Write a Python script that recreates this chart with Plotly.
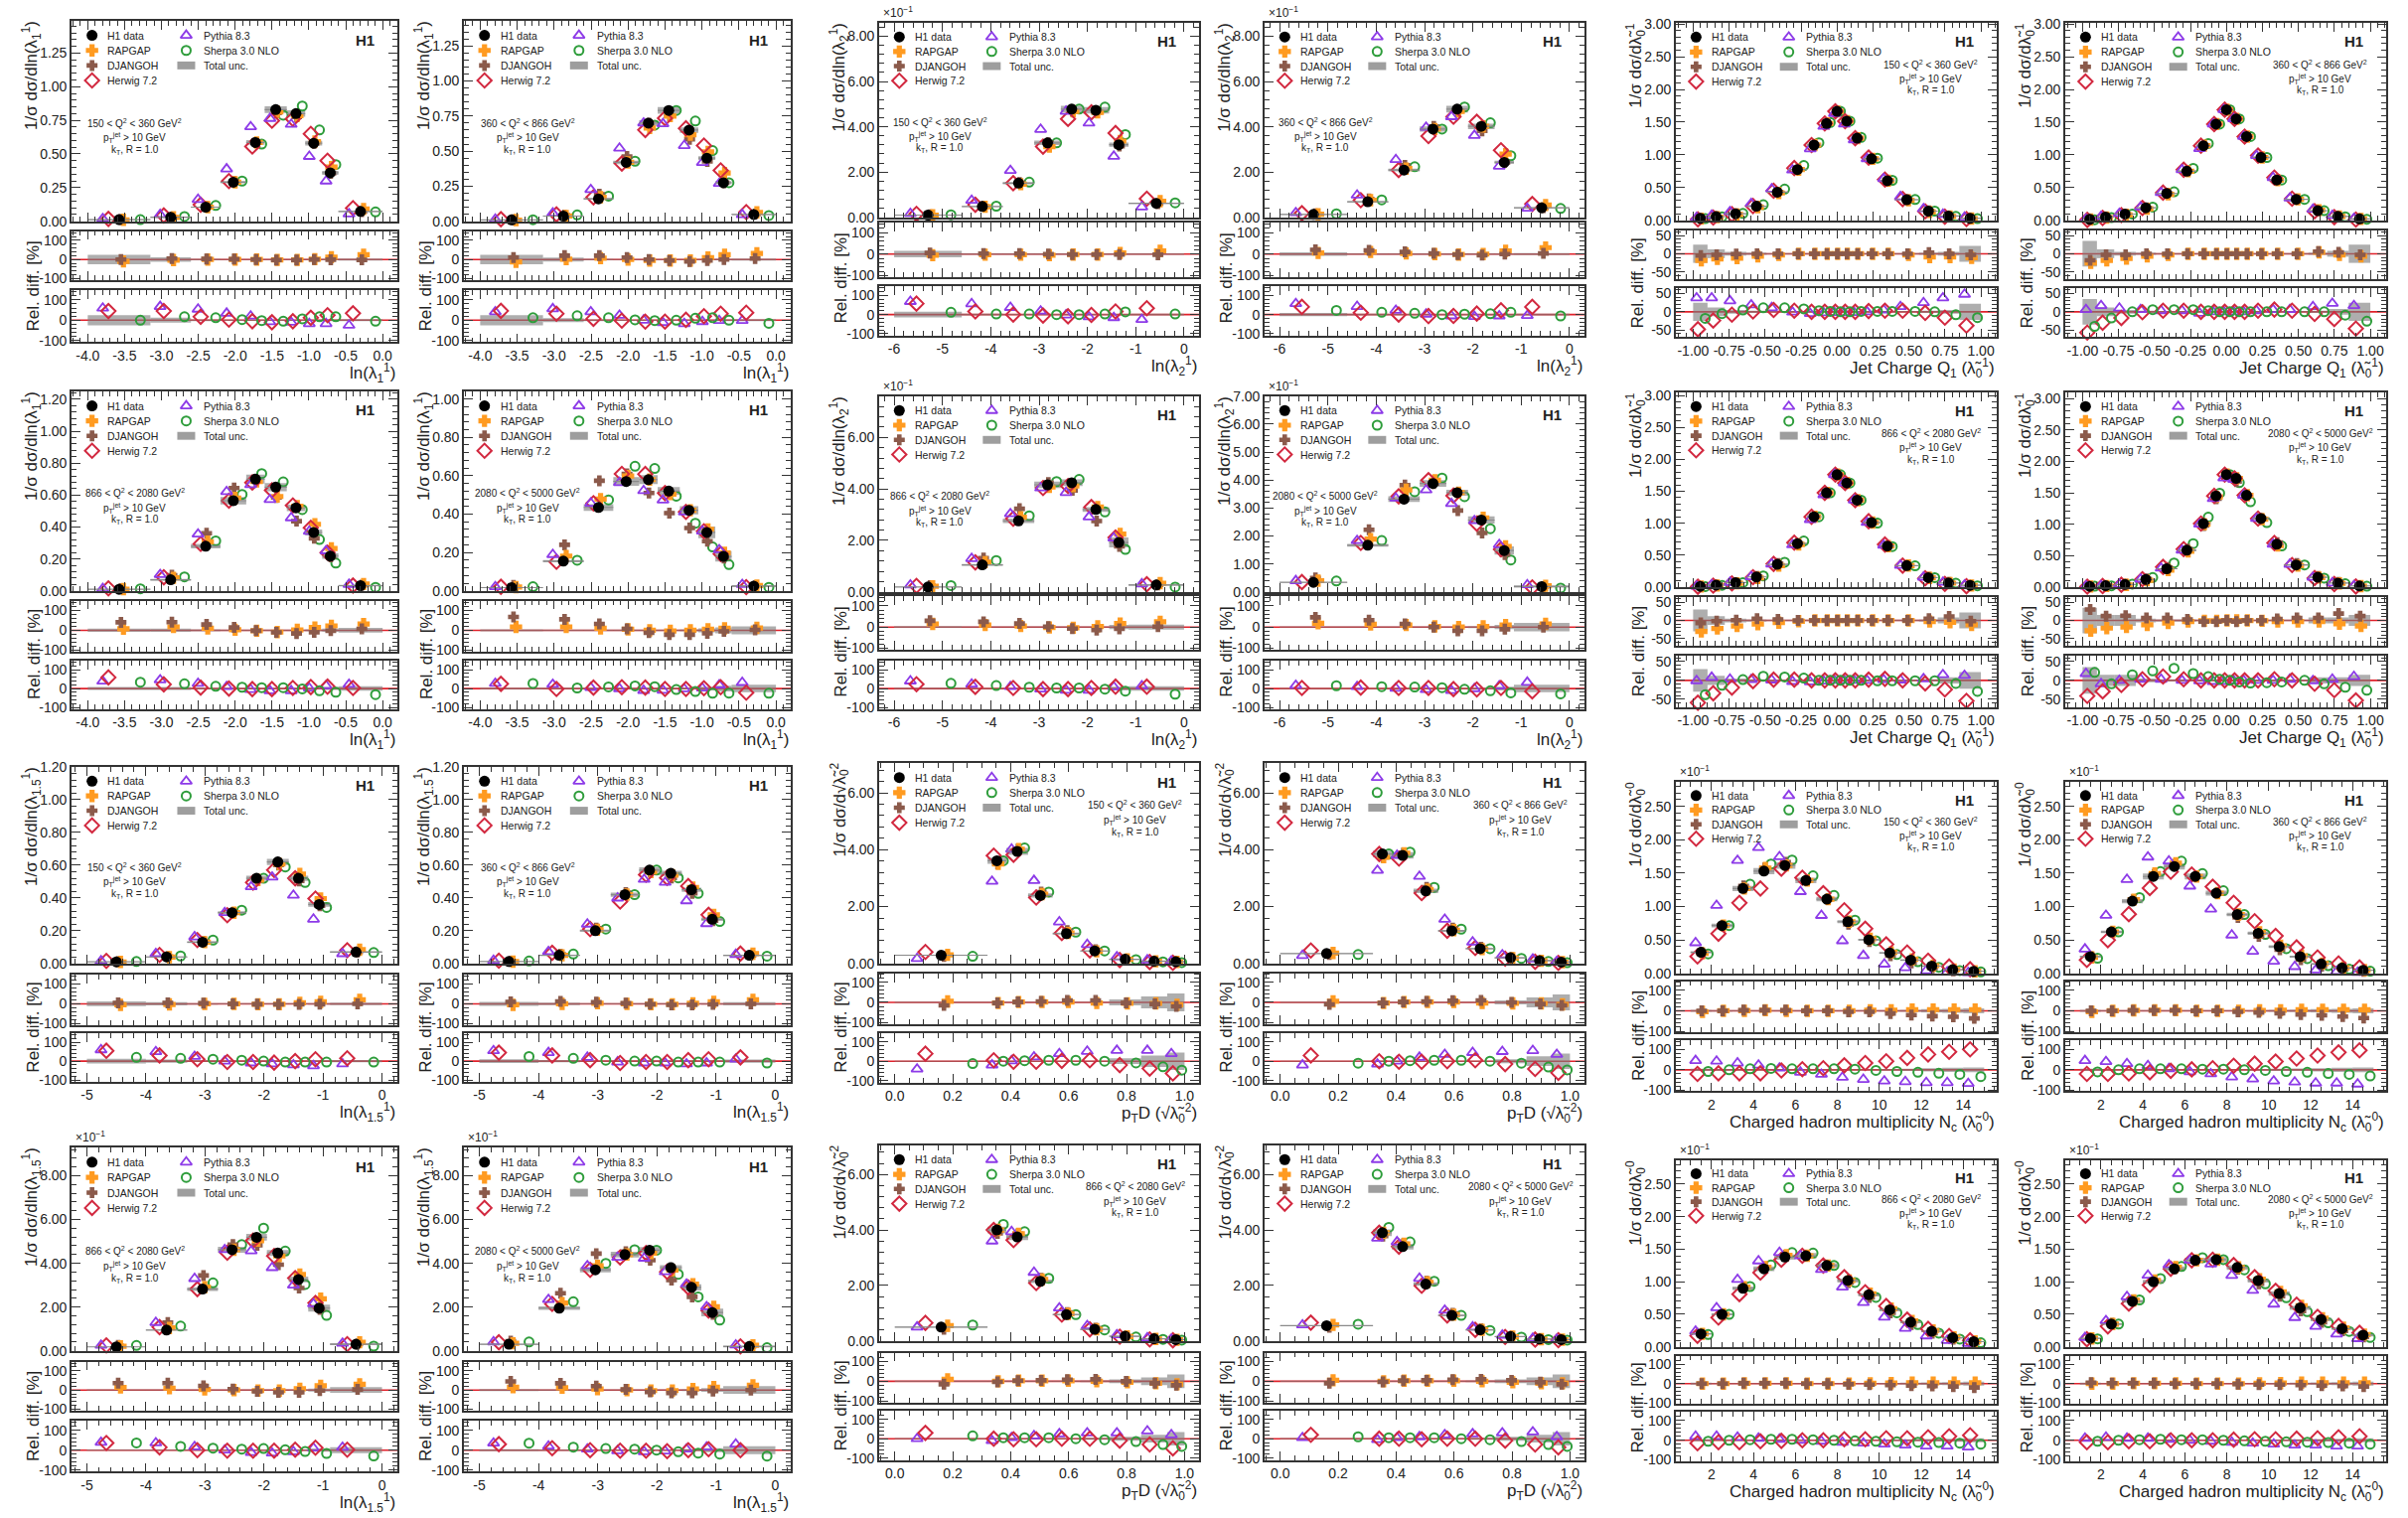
import plotly.graph_objects as go

W, H = 2424, 1528
FONT = "Liberation Sans, Arial, sans-serif"
INK = "#222222"

# ---------------- bin edges per observable ----------------
ln_l1_edges = [-4.0, -3.15, -2.6, -2.2, -1.85, -1.6, -1.3, -1.05, -0.82, -0.6, 0.0]
ln_l2_edges = [-6.0, -4.6, -3.75, -3.1, -2.55, -2.1, -1.55, -1.15, 0.0]
jc_edges = [-1.0, -0.9, -0.78, -0.63, -0.49, -0.34, -0.21, -0.11, -0.035, 0.035,
            0.1, 0.18, 0.3, 0.4, 0.57, 0.7, 0.85, 1.0]
ln_l15_edges = [-5.0, -4.0, -3.3, -2.78, -2.3, -1.95, -1.58, -1.25, -0.88, 0.0]
ptd_edges = [0.0, 0.32, 0.385, 0.46, 0.545, 0.64, 0.74, 0.85, 0.94, 1.0]
nc_edges = [1, 2, 3, 4, 5, 6, 7, 8, 9, 10, 11, 12, 13, 14, 15]

q2_labels = ["150 < Q<sup>2</sup> < 360 GeV<sup>2</sup>",
             "360 < Q<sup>2</sup> < 866 GeV<sup>2</sup>",
             "866 < Q<sup>2</sup> < 2080 GeV<sup>2</sup>",
             "2080 < Q<sup>2</sup> < 5000 GeV<sup>2</sup>"]

# ---------------- ln(lambda_1^1) ----------------
l1_q1_data = [0.012, 0.030, 0.105, 0.290, 0.585, 0.830, 0.800, 0.580, 0.360, 0.073]
l1_q1_unc = [25, 12, 4, 3, 3, 3, 3, 3, 4, 5]
l1_q1_rapgap = [-10, -3, 0, 0, 0, -2, -2, 2, 12, 25]
l1_q1_djangoh = [0, 5, 3, 2, 0, -3, -3, 0, -1, -2]
l1_q1_pythia = [59, 67, 54, 34, 20, -8, -10, -17, -17, -25]
l1_q1_herwig = [45, 45, 17, 3, -5, -10, -5, 12, 25, 34]
l1_q1_sherpa = [0, 17, 12, 3, -2, -5, 7, 17, 17, -5]

l1_q2_data = [0.010, 0.037, 0.160, 0.420, 0.700, 0.790, 0.650, 0.450, 0.275, 0.048]
l1_q2_unc = [25, 10, 4, 3, 3, 3, 3, 3, 4, 5]
l1_q2_rapgap = [-12, 2, 7, 0, -5, -5, -5, 10, 25, 32]
l1_q2_djangoh = [10, 20, 20, 10, 0, -5, -10, -5, 0, 5]
l1_q2_pythia = [41, 56, 41, 24, 0, -12, -17, -7, -2, -2]
l1_q2_herwig = [46, 32, 7, -2, -7, -7, 2, 20, 32, 37]
l1_q2_sherpa = [12, 22, 12, 2, -2, 0, 10, 12, 0, -15]

l1_q3_data = [0.010, 0.070, 0.280, 0.565, 0.700, 0.650, 0.520, 0.366, 0.218, 0.033]
l1_q3_unc = [8, 8, 5, 4, 4, 4, 4, 5, 8, 12]
l1_q3_rapgap = [8, 17, 10, 3, -2, -9, 2, 14, 22, 31]
l1_q3_djangoh = [40, 41, 29, 14, -2, -10, -16, -10, -2, 7]
l1_q3_pythia = [39, 46, 27, 10, -5, -12, -12, 2, 15, 22]
l1_q3_herwig = [59, 22, 5, 0, -3, -3, 3, 8, 10, 3]
l1_q3_sherpa = [34, 25, 12, 7, 5, 5, -2, -12, -20, -32]

l1_q4_data = [0.017, 0.155, 0.435, 0.570, 0.580, 0.520, 0.420, 0.305, 0.180, 0.025]
l1_q4_unc = [5, 4, 4, 4, 4, 4, 5, 10, 15, 20]
l1_q4_rapgap = [17, 17, 10, 5, 0, -3, 0, 5, 10, 12]
l1_q4_djangoh = [67, 55, 32, 7, -12, -22, -22, -15, -5, 2]
l1_q4_pythia = [27, 22, 5, -1, -10, -9, -2, 2, 19, 32]
l1_q4_herwig = [25, -2, 5, 7, 5, -2, -2, 2, 7, -22]
l1_q4_sherpa = [27, 3, 9, 14, 10, -5, -16, -25, -24, -25]

# ---------------- ln(lambda_2^1), axis units x10^-1 ----------------
l2_q1_data = [0.10, 0.48, 1.51, 3.29, 4.78, 4.73, 3.21, 0.62]
l2_q1_unc = [15, 4, 3, 3, 3, 3, 3, 4]
l2_q1_rapgap = [-5, -3, -3, -5, -2, -2, 5, 15]
l2_q1_djangoh = [5, 2, 2, 0, -2, -2, -2, -3]
l2_q1_pythia = [68, 56, 37, 18, -2, -12, -16, -26]
l2_q1_herwig = [57, 16, 0, -5, -9, -2, 16, 33]
l2_q1_sherpa = [12, 3, 3, 0, 0, 3, 14, 3]

l2_q2_data = [0.13, 0.69, 2.09, 3.90, 4.78, 4.02, 2.43, 0.42]
l2_q2_unc = [8, 4, 3, 3, 3, 3, 3, 5]
l2_q2_rapgap = [5, 10, 3, 0, -2, 0, 15, 30]
l2_q2_djangoh = [20, 17, 10, 3, -2, -5, 0, 3]
l2_q2_pythia = [57, 42, 22, 2, -7, -10, -7, -5]
l2_q2_herwig = [40, 10, 0, -8, -7, 5, 22, 40]
l2_q2_sherpa = [22, 12, 7, 0, 2, 4, 12, -7]

l2_q3_data = [0.19, 1.05, 2.76, 4.16, 4.24, 3.20, 1.92, 0.27]
l2_q3_unc = [4, 3, 3, 3, 3, 3, 10, 12]
l2_q3_rapgap = [15, 10, 5, -2, -3, 3, 17, 25]
l2_q3_djangoh = [30, 25, 17, 2, -7, -14, -8, 2]
l2_q3_pythia = [40, 23, 10, -3, -9, -9, 9, 14]
l2_q3_herwig = [23, 9, 3, -3, -3, 3, 10, 10]
l2_q3_sherpa = [28, 16, 7, 3, 3, -3, -14, -30]

l2_q4_data = [0.34, 1.67, 3.32, 3.88, 3.55, 2.57, 1.48, 0.19]
l2_q4_unc = [3, 3, 3, 3, 3, 5, 10, 20]
l2_q4_rapgap = [18, 13, 10, 3, 0, 3, 10, 15]
l2_q4_djangoh = [46, 33, 15, 0, -18, -18, -10, 0]
l2_q4_pythia = [17, 10, 1, -6, -11, -1, 14, 33]
l2_q4_herwig = [3, 5, 3, 3, -3, -5, 3, -15]
l2_q4_sherpa = [15, 10, 8, 5, -4, -12, -23, -28]

# ---------------- jet charge Q1 ----------------
jc_q1_data = [0.03, 0.055, 0.10, 0.215, 0.43, 0.775, 1.15, 1.48, 1.665, 1.515, 1.255, 0.94, 0.605, 0.315, 0.14, 0.065, 0.03]
jc_q1_unc = [25, 12, 5, 3, 2, 2, 2, 2, 2, 2, 2, 2, 2, 2, 3, 5, 22]
jc_q1_rapgap = [-18, -14, -12, -7, -3, 0, 0, 0, 0, 0, 0, 0, 0, -3, -9, -9, -11]
jc_q1_djangoh = [-5, -3, -1, 0, 0, 0, 0, 0, 0, 0, 0, 0, 0, 0, 3, 0, -3]
jc_q1_pythia = [38, 38, 30, 19, 11, -1, -5, -3, -2, -3, -2, 0, 5, 14, 25, 38, 48]
jc_q1_herwig = [-48, -24, -8, 1, 5, 3, 0, 0, 0, 0, 0, 2, 3, 3, -3, -16, -38]
jc_q1_sherpa = [-18, -5, 5, 11, 11, 8, 3, 1, 0, 0, 1, 1, 1, 1, 0, -8, -16]

jc_q2_data = [0.015, 0.05, 0.095, 0.19, 0.41, 0.75, 1.14, 1.47, 1.69, 1.55, 1.28, 0.96, 0.615, 0.32, 0.147, 0.06, 0.022]
jc_q2_unc = [35, 12, 5, 3, 2, 2, 2, 2, 2, 2, 2, 2, 2, 2, 3, 8, 25]
jc_q2_rapgap = [-25, -18, -13, -7, -3, 0, 0, 0, 0, 0, 0, 0, 0, 0, 4, -3, -7]
jc_q2_djangoh = [-18, -3, -3, 0, 0, 0, 0, 0, 0, 0, 0, 0, 0, 0, 6, 4, -3]
jc_q2_pythia = [6, 17, 10, 6, 3, 3, -4, 0, 0, 0, 0, 3, 6, 6, 14, 23, 17]
jc_q2_herwig = [-57, -30, -17, -1, 3, 3, 0, 0, 0, 0, 0, 3, 6, 3, -6, -20, -46]
jc_q2_sherpa = [-40, -17, 0, 6, 6, 6, 3, 0, 0, 0, 0, 0, 0, 0, 0, -9, -26]

jc_q3_data = [0.01, 0.03, 0.068, 0.157, 0.355, 0.68, 1.10, 1.475, 1.76, 1.63, 1.36, 1.01, 0.64, 0.335, 0.147, 0.063, 0.026]
jc_q3_unc = [30, 12, 5, 3, 2, 2, 2, 2, 2, 2, 2, 2, 2, 2, 3, 8, 22]
jc_q3_rapgap = [-30, -22, -15, -10, -6, -2, 0, 0, 0, 0, 0, 0, 0, 0, -3, -5, -12]
jc_q3_djangoh = [-7, -2, 1, 5, 3, 0, 0, 0, 0, 0, 0, 0, 0, 0, 5, 11, -2]
jc_q3_pythia = [-1, 8, 3, 2, 1, -3, -4, -2, 0, 0, 0, 0, 2, 1, 4, 15, 13]
jc_q3_herwig = [-59, -34, -19, -2, 2, 2, 0, 0, 0, 0, 0, 2, 4, 0, -8, -24, -54]
jc_q3_sherpa = [-38, -13, 2, 11, 9, 6, 0, 0, 0, 0, 0, -1, -1, -1, -1, -8, -29]

jc_q4_data = [0.01, 0.02, 0.04, 0.12, 0.29, 0.585, 1.01, 1.45, 1.79, 1.73, 1.46, 1.09, 0.68, 0.35, 0.155, 0.062, 0.016]
jc_q4_unc = [35, 15, 15, 5, 3, 3, 2, 2, 2, 2, 2, 2, 2, 2, 8, 8, 15]
jc_q4_rapgap = [-28, -21, -18, -12, -7, -3, -1, -1, 0, 0, 0, -1, -3, -3, -3, -9, -15]
jc_q4_djangoh = [30, 12, 13, 7, 7, 3, -3, -3, 0, -3, 0, 0, 4, 7, 7, 19, 12]
jc_q4_pythia = [18, -9, 0, 3, 3, 0, -1, -3, -3, -1, 0, 0, 0, 3, -1, 3, 10]
jc_q4_herwig = [-41, -29, -12, 3, 10, 3, 0, 0, 0, 0, 0, 0, 3, 0, -9, -26, -53]
jc_q4_sherpa = [21, -9, 15, 25, 32, 18, 10, 3, 0, -4, -7, -6, -4, 0, -9, -18, -26]

# ---------------- ln(lambda_1.5^1) ----------------
l15_q1_data = [0.010, 0.040, 0.130, 0.310, 0.520, 0.620, 0.520, 0.360, 0.070]
l15_q1_unc = [12, 8, 4, 3, 3, 3, 3, 4, 6]
l15_q1_rapgap = [-5, -3, 0, 0, -2, -2, 5, 10, 20]
l15_q1_djangoh = [5, 5, 3, 0, -2, -3, -3, -2, 0]
l15_q1_pythia = [60, 50, 25, 0, -10, -15, -20, -25, -15]
l15_q1_herwig = [55, 30, 10, -5, -5, -8, 0, 10, 15]
l15_q1_sherpa = [20, 15, 10, 5, 0, -5, -5, -5, -5]

l15_q2_data = [0.012, 0.050, 0.200, 0.420, 0.570, 0.550, 0.450, 0.270, 0.050]
l15_q2_unc = [10, 6, 3, 3, 3, 3, 3, 4, 8]
l15_q2_rapgap = [-5, 0, 3, 0, -2, -2, 3, 10, 20]
l15_q2_djangoh = [10, 12, 8, 3, -2, -5, -5, -3, 0]
l15_q2_pythia = [55, 45, 20, -5, -10, -10, -15, -10, 10]
l15_q2_herwig = [45, 30, 5, -10, -5, -5, 5, 10, 20]
l15_q2_sherpa = [25, 15, 5, 0, 0, -5, -5, -5, -10]

l15_q3_data = [0.18, 0.95, 2.82, 4.62, 5.19, 4.47, 3.26, 1.95, 0.30]
l15_q3_unc = [3, 3, 3, 3, 3, 3, 4, 8, 15]
l15_q3_rapgap = [14, 10, 3, 0, -3, -3, 7, 22, 30]
l15_q3_djangoh = [36, 36, 22, 5, -7, -12, -12, -3, 3]
l15_q3_pythia = [39, 36, 17, 0, -12, -15, -8, 10, 14]
l15_q3_herwig = [36, 14, 0, -3, -3, -3, 2, 12, 2]
l15_q3_sherpa = [36, 19, 10, 5, 8, 2, -7, -17, -29]

l15_q4_data = [0.30, 1.95, 3.70, 4.40, 4.60, 3.80, 2.90, 1.75, 0.20]
l15_q4_unc = [5, 4, 3, 3, 3, 3, 5, 10, 20]
l15_q4_rapgap = [15, 12, 5, 0, -3, -3, 5, 15, 25]
l15_q4_djangoh = [45, 35, 20, 3, -10, -15, -15, -5, 0]
l15_q4_pythia = [35, 20, 5, -3, -8, -5, 5, 15, 30]
l15_q4_herwig = [30, 10, 0, -3, -3, -5, 0, 5, 0]
l15_q4_sherpa = [35, 15, 8, 5, 0, -8, -15, -20, -30]

# ---------------- pTD ----------------
ptd_q1_data = [0.29, 3.61, 3.94, 2.39, 1.05, 0.44, 0.15, 0.08, 0.06]
ptd_q1_unc = [3, 3, 3, 3, 3, 3, 15, 30, 45]
ptd_q1_rapgap = [5, -3, 2, 2, 2, -3, -5, -5, -12]
ptd_q1_djangoh = [-15, -3, 2, 5, 10, 10, -3, -8, -20]
ptd_q1_pythia = [-41, -20, 2, 22, 39, 51, 56, 56, 39]
ptd_q1_herwig = [39, 5, -3, -3, 2, 5, -20, -38, -63]
ptd_q1_sherpa = [-12, 0, 3, 5, 5, 0, -9, -29, -46]

ptd_q2_data = [0.35, 3.85, 3.80, 2.55, 1.15, 0.52, 0.20, 0.10, 0.05]
ptd_q2_unc = [3, 3, 3, 3, 3, 3, 10, 25, 40]
ptd_q2_rapgap = [5, -3, 2, 2, 2, -3, -5, -5, -10]
ptd_q2_djangoh = [-10, -3, 2, 5, 8, 10, 0, -8, -15]
ptd_q2_pythia = [-20, -15, 0, 20, 35, 45, 50, 55, 35]
ptd_q2_herwig = [30, 0, -3, -3, 0, 5, -15, -40, -60]
ptd_q2_sherpa = [-10, 0, 3, 5, 5, 0, -10, -30, -45]

ptd_q3_data = [0.50, 4.00, 3.75, 2.15, 0.95, 0.42, 0.17, 0.08, 0.05]
ptd_q3_unc = [3, 3, 3, 3, 3, 5, 10, 20, 35]
ptd_q3_rapgap = [10, 0, 3, 3, 3, 0, -5, -10, -15]
ptd_q3_djangoh = [-15, -3, 3, 5, 8, 10, 0, -10, -20]
ptd_q3_pythia = [0, -10, 5, 15, 25, 30, 30, 40, 20]
ptd_q3_herwig = [30, 0, -3, -3, 0, 0, -10, -30, -50]
ptd_q3_sherpa = [15, 5, 5, 5, 0, -5, -15, -30, -40]

ptd_q4_data = [0.55, 3.90, 3.40, 2.05, 0.92, 0.40, 0.16, 0.07, 0.05]
ptd_q4_unc = [3, 3, 3, 3, 3, 5, 10, 20, 35]
ptd_q4_rapgap = [5, 0, 3, 3, 3, 0, -5, -10, -10]
ptd_q4_djangoh = [-10, -3, 3, 5, 8, 10, 5, -5, -15]
ptd_q4_pythia = [5, -5, 5, 10, 20, 25, 30, 35, 10]
ptd_q4_herwig = [20, 0, 0, -3, 0, 0, -10, -30, -45]
ptd_q4_sherpa = [10, 5, 5, 5, 0, -5, -15, -30, -40]

# ---------------- charged multiplicity, axis units x10^-1 ----------------
nc_q1_data = [0.315, 0.715, 1.27, 1.53, 1.615, 1.39, 1.11, 0.773, 0.502, 0.305, 0.197, 0.108, 0.054, 0.03]
nc_q1_unc = [5, 4, 3, 3, 3, 3, 3, 3, 3, 4, 5, 8, 10, 12]
nc_q1_rapgap = [-5, 0, 0, 3, 0, 0, 0, 0, 3, 3, 6, 6, 6, 6]
nc_q1_djangoh = [0, 0, 3, 3, 3, 0, 0, -5, -5, -13, -21, -26, -29, -37]
nc_q1_pythia = [45, 42, 33, 23, 8, -12, -22, -37, -47, -55, -58, -63, -63, -67]
nc_q1_herwig = [-20, -17, -17, -17, -3, 3, 8, 22, 33, 42, 58, 75, 88, 100]
nc_q1_sherpa = [-8, 0, 5, 7, 5, 5, 5, 3, -3, -8, -12, -17, -22, -33]

nc_q2_data = [0.25, 0.62, 1.08, 1.45, 1.60, 1.45, 1.20, 0.88, 0.60, 0.40, 0.25, 0.14, 0.08, 0.045]
nc_q2_unc = [5, 3, 3, 3, 3, 3, 3, 3, 4, 5, 6, 8, 10, 12]
nc_q2_rapgap = [-5, 0, 2, 3, 3, 0, 0, 0, 2, 3, 5, 5, 5, 5]
nc_q2_djangoh = [0, 0, 2, 2, 2, 0, 0, -5, -8, -12, -18, -22, -28, -35]
nc_q2_pythia = [45, 40, 30, 20, 5, -10, -20, -35, -45, -55, -60, -65, -65, -70]
nc_q2_herwig = [-20, -20, -18, -12, -5, 2, 8, 20, 30, 40, 55, 70, 85, 95]
nc_q2_sherpa = [-10, 0, 5, 5, 5, 3, 3, 0, -3, -8, -12, -18, -22, -30]

nc_q3_data = [0.20, 0.50, 0.90, 1.20, 1.38, 1.40, 1.25, 1.02, 0.80, 0.57, 0.38, 0.24, 0.14, 0.08]
nc_q3_unc = [5, 3, 3, 3, 3, 3, 3, 3, 3, 4, 5, 6, 8, 10]
nc_q3_rapgap = [0, 0, 2, 2, 2, 0, 0, 0, 2, 3, 5, 5, 5, 5]
nc_q3_djangoh = [0, 0, 2, 2, 2, 0, 0, -3, -5, -8, -10, -12, -15, -20]
nc_q3_pythia = [20, 20, 15, 10, 5, 0, -5, -10, -15, -20, -25, -30, -30, -35]
nc_q3_herwig = [-15, -10, -10, -5, -3, 0, 0, 5, 5, 10, 10, 15, 20, 25]
nc_q3_sherpa = [-5, 0, 3, 5, 5, 3, 0, -3, -5, -8, -10, -12, -15, -20]

nc_q4_data = [0.13, 0.35, 0.70, 1.00, 1.20, 1.33, 1.34, 1.22, 1.02, 0.82, 0.60, 0.42, 0.28, 0.18]
nc_q4_unc = [5, 3, 3, 3, 3, 3, 3, 3, 3, 4, 5, 6, 8, 10]
nc_q4_rapgap = [0, 0, 2, 2, 2, 0, 0, 0, 2, 3, 5, 5, 5, 5]
nc_q4_djangoh = [5, 3, 3, 2, 0, 0, 0, -2, -5, -5, -8, -10, -12, -15]
nc_q4_pythia = [10, 15, 10, 10, 5, 0, -5, -10, -15, -20, -25, -25, -30, -30]
nc_q4_herwig = [-10, -10, -5, -5, 0, 0, 0, 3, 5, 5, 8, 10, 15, 20]
nc_q4_sherpa = [-5, 0, 3, 5, 3, 3, 0, -3, -5, -8, -10, -12, -15, -20]

# ---------------- styling ----------------
C_RAP = "#ff9b21"
C_DJA = "#8b5a4b"
C_HER = "#d2283f"
C_PYT = "#8d3be8"
C_SHE = "#2e9d3b"
C_UNC = "rgba(125,125,125,0.62)"

STY = {
    "rap": dict(symbol="cross", size=9, color=C_RAP, line=dict(width=1.6, color=C_RAP)),
    "dja": dict(symbol="cross", size=8, color=C_DJA, line=dict(width=1.4, color=C_DJA)),
    "her": dict(symbol="diamond-open", size=11, color=C_HER, line=dict(width=2, color=C_HER)),
    "pyt": dict(symbol="triangle-up-open", size=10, color=C_PYT, line=dict(width=1.8, color=C_PYT)),
    "she": dict(symbol="circle-open", size=9, color=C_SHE, line=dict(width=2, color=C_SHE)),
    "dat": dict(symbol="circle", size=11, color="black"),
}
OFFS = {"pyt": -0.26, "her": -0.17, "dja": 0.03, "rap": 0.07, "she": 0.34}

LT = "λ\u0303"

# text sizes
FS_TICK = 14
FS_TITLE = 17
FS_LEG = 10.5
FS_Q = 10
FS_H1 = 15
FS_EXP = 12


def ticks(lo, hi, step, fmt):
    n = int(round((hi - lo) / step))
    vals = [round(lo + i * step, 6) for i in range(n + 1)]
    txt = [fmt.format(v + 0.0) if abs(v) > 1e-9 else fmt.format(0.0) for v in vals]
    return vals, txt


OBS = {
    "l1": dict(edges=ln_l1_edges, xr=[-4.22, 0.2], xt=ticks(-4.0, 0.0, 0.5, "{:.1f}"), xm=0.1,
               ytitle="1/σ dσ/dln(λ<sub>1</sub><sup>1</sup>)", xtitle="ln(λ<sub>1</sub><sup>1</sup>)",
               qside="left", qx=0.195, rr=[-108, 148], rt=[-100, 0, 100], rm=20),
    "l2": dict(edges=ln_l2_edges, xr=[-6.31, 0.31], xt=ticks(-6, 0, 1, "{:.0f}"), xm=0.2,
               ytitle="1/σ dσ/dln(λ<sub>2</sub><sup>1</sup>)", xtitle="ln(λ<sub>2</sub><sup>1</sup>)",
               qside="left", qx=0.19, rr=[-108, 148], rt=[-100, 0, 100], rm=20),
    "jc": dict(edges=jc_edges, xr=[-1.12, 1.11], xt=ticks(-1.0, 1.0, 0.25, "{:.2f}"), xm=0.05,
               ytitle="1/σ dσ/d" + LT + "<sub>0</sub><sup>1</sup>",
               xtitle="Jet Charge Q<sub>1</sub> (" + LT + "<sub>0</sub><sup>1</sup>)",
               qside="right", qx=0.795, rr=[-70, 65], rt=[-50, 0, 50], rm=10),
    "l15": dict(edges=ln_l15_edges, xr=[-5.26, 0.26], xt=ticks(-5, 0, 1, "{:.0f}"), xm=0.2,
                ytitle="1/σ dσ/dln(λ<sub>1.5</sub><sup>1</sup>)", xtitle="ln(λ<sub>1.5</sub><sup>1</sup>)",
                qside="left", qx=0.195, rr=[-108, 148], rt=[-100, 0, 100], rm=20),
    "ptd": dict(edges=ptd_edges, xr=[-0.054, 1.05], xt=ticks(0.0, 1.0, 0.2, "{:.1f}"), xm=0.05,
                ytitle="1/σ dσ/d√" + LT + "<sub>0</sub><sup>2</sup>",
                xtitle="p<sub>T</sub>D (√" + LT + "<sub>0</sub><sup>2</sup>)",
                qside="right", qx=0.80, rr=[-110, 145], rt=[-100, 0, 100], rm=20),
    "nc": dict(edges=nc_edges, xr=[0.3, 15.6], xt=ticks(2, 14, 2, "{:.0f}"), xm=0.5,
               ytitle="1/σ dσ/d" + LT + "<sub>0</sub><sup>0</sup>",
               xtitle="Charged hadron multiplicity N<sub>c</sub> (" + LT + "<sub>0</sub><sup>0</sup>)",
               qside="right", qx=0.795, rr=[-105, 145], rt=[-100, 0, 100], rm=20),
}

# panel frame geometry in pixels
COLS_X = [(72, 400), (467, 796), (885, 1207), (1273, 1595), (1687, 2010), (2079, 2402)]
ROWS_Y = [
    [[13, 217, 227, 277, 287, 340], [390, 593, 603, 655, 664, 713],
     [772, 972, 983, 1035, 1043, 1092], [1159, 1366, 1377, 1427, 1437, 1489]],
    [[15, 213, 218, 274, 283, 333], [395, 594, 598, 653, 664, 713],
     [768, 972, 982, 1034, 1043, 1093], [1157, 1356, 1368, 1419, 1427, 1477]],
    [[15, 216, 226, 276, 285, 335], [391, 589, 599, 649, 659, 711],
     [787, 982, 990, 1042, 1050, 1102], [1172, 1362, 1371, 1420, 1428, 1478]],
]


def pan(row, col, obs, q, yr, ydt, scaled, prefix):
    g = globals()
    return dict(row=row, col=col, obs=obs, q=q, yr=yr, ydt=ydt, scaled=scaled,
                data=g[prefix + "_data"], unc=g[prefix + "_unc"], rap=g[prefix + "_rapgap"],
                dja=g[prefix + "_djangoh"], pyt=g[prefix + "_pythia"], her=g[prefix + "_herwig"],
                she=g[prefix + "_sherpa"])


PANELS = [
    pan(0, 0, "l1", 0, [0, 1.49], 0.25, False, "l1_q1"),
    pan(0, 1, "l1", 1, [0, 1.43], 0.25, False, "l1_q2"),
    pan(0, 2, "l2", 0, [0, 8.6], 2, True, "l2_q1"),
    pan(0, 3, "l2", 1, [0, 8.6], 2, True, "l2_q2"),
    pan(0, 4, "jc", 0, [0, 3.02], 0.5, False, "jc_q1"),
    pan(0, 5, "jc", 1, [0, 3.02], 0.5, False, "jc_q2"),
    pan(1, 0, "l1", 2, [0, 1.25], 0.2, False, "l1_q3"),
    pan(1, 1, "l1", 3, [0, 1.04], 0.2, False, "l1_q4"),
    pan(1, 2, "l2", 2, [0, 7.6], 2, True, "l2_q3"),
    pan(1, 3, "l2", 3, [0, 7.0], 1, True, "l2_q4"),
    pan(1, 4, "jc", 2, [0, 3.05], 0.5, False, "jc_q3"),
    pan(1, 5, "jc", 3, [0, 3.1], 0.5, False, "jc_q4"),
    pan(2, 0, "l15", 0, [0, 1.2], 0.2, False, "l15_q1"),
    pan(2, 1, "l15", 1, [0, 1.2], 0.2, False, "l15_q2"),
    pan(2, 2, "ptd", 0, [0, 7.05], 2, False, "ptd_q1"),
    pan(2, 3, "ptd", 1, [0, 7.05], 2, False, "ptd_q2"),
    pan(2, 4, "nc", 0, [0, 2.87], 0.5, True, "nc_q1"),
    pan(2, 5, "nc", 1, [0, 2.87], 0.5, True, "nc_q2"),
    pan(3, 0, "l15", 2, [0, 9.3], 2, True, "l15_q3"),
    pan(3, 1, "l15", 3, [0, 9.3], 2, True, "l15_q4"),
    pan(3, 2, "ptd", 2, [0, 7.05], 2, False, "ptd_q3"),
    pan(3, 3, "ptd", 3, [0, 7.05], 2, False, "ptd_q4"),
    pan(3, 4, "nc", 2, [0, 2.87], 0.5, True, "nc_q3"),
    pan(3, 5, "nc", 3, [0, 2.87], 0.5, True, "nc_q4"),
]


def px(x):
    return x / W


def py(y):
    return 1 - y / H


def axis_base():
    return dict(showline=True, linecolor="#333333", linewidth=1.6, mirror="allticks",
                ticks="inside", ticklen=9, tickwidth=1.2, tickcolor="#333333",
                showgrid=False, zeroline=False, fixedrange=True,
                tickfont=dict(family=FONT, size=FS_TICK, color=INK))


fig = go.Figure()
layout = {}
annots = []
shapes = []
legend_pts = {k: ([], []) for k in ["dat", "rap", "dja", "her", "pyt", "she"]}


def ann(x, y, text, size, xa="center", ya="middle", angle=0, bold=False):
    annots.append(dict(x=px(x), y=py(y), xref="paper", yref="paper", text=("<b>%s</b>" % text) if bold else text,
                       showarrow=False, xanchor=xa, yanchor=ya, textangle=angle,
                       font=dict(family=FONT, size=size, color=INK)))


for i, P in enumerate(PANELS):
    o = OBS[P["obs"]]
    x0, x1 = COLS_X[P["col"]]
    geo = ROWS_Y[P["col"] // 2][P["row"]]
    edges = o["edges"]
    cen = [(a + b) / 2 for a, b in zip(edges[:-1], edges[1:])]
    wid = [b - a for a, b in zip(edges[:-1], edges[1:])]
    d = P["data"]
    u = P["unc"]

    ids = [3 * i + 1, 3 * i + 2, 3 * i + 3]
    tops = [geo[0], geo[2], geo[4]]
    bots = [geo[1], geo[3], geo[5]]
    for k, n in enumerate(ids):
        xa = axis_base()
        xa.update(domain=[px(x0), px(x1)], range=o["xr"], anchor="y%d" % n,
                  tickmode="array", tickvals=o["xt"][0], ticktext=o["xt"][1],
                  minor=dict(ticks="inside", ticklen=5, tickwidth=1, tickcolor="#333333",
                             dtick=o["xm"], tick0=0, showgrid=False),
                  showticklabels=(k == 2))
        ya = axis_base()
        ya.update(domain=[py(bots[k]), py(tops[k])], anchor="x%d" % n)
        if k == 0:
            ya.update(range=P["yr"], tickmode="linear", tick0=0, dtick=P["ydt"], tickformat=".2f",
                      minor=dict(ticks="inside", ticklen=5, tickwidth=1, tickcolor="#333333",
                                 dtick=P["ydt"] / 5, tick0=0, showgrid=False))
        else:
            ya.update(range=o["rr"], tickmode="array", tickvals=o["rt"],
                      ticktext=[str(v) for v in o["rt"]],
                      minor=dict(ticks="inside", ticklen=5, tickwidth=1, tickcolor="#333333",
                                 dtick=o["rm"], tick0=0, showgrid=False))
        layout["xaxis" if n == 1 else "xaxis%d" % n] = xa
        layout["yaxis" if n == 1 else "yaxis%d" % n] = ya

    xm, ym = ("x" if ids[0] == 1 else "x%d" % ids[0]), ("y" if ids[0] == 1 else "y%d" % ids[0])
    xr1, yr1 = "x%d" % ids[1], "y%d" % ids[1]
    xr2, yr2 = "x%d" % ids[2], "y%d" % ids[2]

    # main panel: total uncertainty band, predictions, data
    fig.add_trace(go.Bar(x=cen, y=[2 * v * e / 100 for v, e in zip(d, u)],
                         base=[v * (1 - e / 100) for v, e in zip(d, u)], width=wid,
                         marker=dict(color=C_UNC, line=dict(width=0)), xaxis=xm, yaxis=ym,
                         showlegend=False, hoverinfo="skip"))
    for key in ["she", "dja", "rap", "her", "pyt"]:
        rel = P[key]
        fig.add_trace(go.Scatter(
            x=[c + OFFS[key] * w for c, w in zip(cen, wid)],
            y=[v * (1 + r / 100) for v, r in zip(d, rel)],
            mode="markers", marker=STY[key], xaxis=xm, yaxis=ym, showlegend=False,
            cliponaxis=False, hoverinfo="skip"))
    fig.add_trace(go.Scatter(
        x=cen, y=d, mode="markers", marker=STY["dat"],
        error_x=dict(type="data", array=[w / 2 for w in wid], color="#8a8a8a", thickness=1.2, width=0),
        xaxis=xm, yaxis=ym, showlegend=False, cliponaxis=False, hoverinfo="skip"))

    # ratio panels
    for (xa_, ya_, keys) in [(xr1, yr1, ["rap", "dja"]), (xr2, yr2, ["pyt", "her", "she"])]:
        fig.add_trace(go.Bar(x=cen, y=[2 * e for e in u], base=[-e for e in u], width=wid,
                             marker=dict(color=C_UNC, line=dict(width=0)), xaxis=xa_, yaxis=ya_,
                             showlegend=False, hoverinfo="skip"))
        shapes.append(dict(type="line", xref="%s domain" % xa_, yref=ya_, x0=0, x1=1, y0=0, y1=0,
                           line=dict(color="#e0202a", width=1.6), layer="below"))
        for key in keys:
            fig.add_trace(go.Scatter(
                x=[c + OFFS[key] * w for c, w in zip(cen, wid)], y=P[key],
                mode="markers", marker=STY[key], xaxis=xa_, yaxis=ya_, showlegend=False,
                cliponaxis=False, hoverinfo="skip"))

    # legend block
    wpx = x1 - x0
    hpx = geo[1] - geo[0]
    rows_y = [geo[0] + f * hpx for f in (0.073, 0.148, 0.223, 0.298)]
    gx1 = x0 + 0.063 * wpx
    gx2 = x0 + 0.352 * wpx
    for key, yy in zip(["dat", "rap", "dja", "her"], rows_y):
        legend_pts[key][0].append(gx1)
        legend_pts[key][1].append(yy)
    for key, yy in zip(["pyt", "she"], rows_y[:2]):
        legend_pts[key][0].append(gx2)
        legend_pts[key][1].append(yy)
    shapes.append(dict(type="rect", xref="paper", yref="paper",
                       x0=px(gx2 - 9), x1=px(gx2 + 9), y0=py(rows_y[2] + 4), y1=py(rows_y[2] - 4),
                       fillcolor="rgba(125,125,125,0.75)", line=dict(width=0)))
    for txt, yy in zip(["H1 data", "RAPGAP", "DJANGOH", "Herwig 7.2"], rows_y):
        ann(x0 + 0.105 * wpx, yy, txt, FS_LEG, xa="left")
    for txt, yy in zip(["Pythia 8.3", "Sherpa 3.0 NLO", "Total unc."], rows_y[:3]):
        ann(x0 + 0.40 * wpx, yy, txt, FS_LEG, xa="left")

    ann(x0 + 0.90 * wpx, geo[0] + 0.095 * hpx, "H1", FS_H1, bold=True)

    # phase-space text
    qlines = [q2_labels[P["q"]], "p<sub>T</sub><sup>jet</sup> > 10 GeV", "k<sub>T</sub>, R = 1.0"]
    if o["qside"] == "left":
        fr = (0.51, 0.585, 0.645)
    else:
        fr = (0.21, 0.285, 0.345)
    for t, f in zip(qlines, fr):
        ann(x0 + o["qx"] * wpx, geo[0] + f * hpx, t, FS_Q)

    if P["scaled"]:
        ann(x0 + 2, geo[0] - 1, "×10<sup>−1</sup>", FS_EXP, xa="left", ya="bottom")

    # axis titles
    ann(x0 - 40, geo[0] - 2, o["ytitle"], FS_TITLE, ya="top", angle=-90)
    ann(x0 - 38, (geo[2] + geo[5]) / 2, "Rel. diff. [%]", FS_TITLE, angle=-90)
    ann(x1, geo[5] + 31, o["xtitle"], FS_TITLE, xa="right")

# legend glyphs drawn on a pixel canvas overlay
NC = 3 * len(PANELS) + 1
layout["xaxis%d" % NC] = dict(domain=[0, 1], range=[0, W], visible=False, fixedrange=True,
                              anchor="y%d" % NC)
layout["yaxis%d" % NC] = dict(domain=[0, 1], range=[H, 0], visible=False, fixedrange=True,
                              anchor="x%d" % NC)
for key in ["dat", "rap", "dja", "her", "pyt", "she"]:
    xs, ys = legend_pts[key]
    fig.add_trace(go.Scatter(x=xs, y=ys, mode="markers", marker=STY[key],
                             xaxis="x%d" % NC, yaxis="y%d" % NC, showlegend=False,
                             cliponaxis=False, hoverinfo="skip"))

fig.update_layout(**layout)
fig.update_layout(width=W, height=H, autosize=False,
                  margin=dict(l=0, r=0, t=0, b=0),
                  paper_bgcolor="white", plot_bgcolor="rgba(0,0,0,0)",
                  barmode="overlay", showlegend=False,
                  annotations=annots, shapes=shapes,
                  font=dict(family=FONT, color=INK))

fig.write_html("out.html")
